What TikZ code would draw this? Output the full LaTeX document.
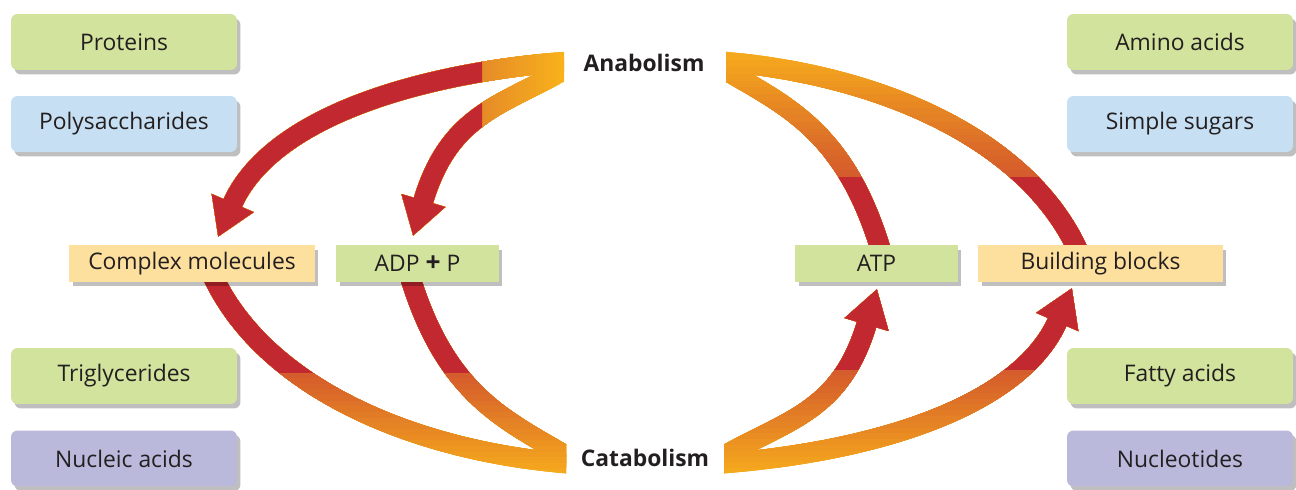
\documentclass[tikz,border=0pt]{standalone}
\usepackage{fontspec}
\setmainfont{Open Sans}
\usetikzlibrary{arrows.meta,shadows}
\definecolor{ink}{HTML}{231F20}
\definecolor{leaf}{HTML}{D1E39C}
\definecolor{sky}{HTML}{C7DFF2}
\definecolor{lilac}{HTML}{BAB9DB}
\definecolor{sand}{HTML}{FEE09E}
\definecolor{flameY}{HTML}{F8B11B}
\definecolor{flameA}{HTML}{E58A28}
\definecolor{flameO}{HTML}{D3572D}
\definecolor{flameR}{HTML}{C2282F}
% the four pairs of bands, one macro per quarter
\newcommand\bandsTL[1]{%
  \draw[band,head,#1] (anaL1) .. controls (420,72) and (270,117) .. (cmTop);
  \draw[band,head,#1] (anaL2) .. controls (506,105) and (450,110) .. (adpTop);}
\newcommand\bandsTR[1]{%
  \draw[band,#1] (anaR1) .. controls (870,72) and (1028,135) .. (bbTop);
  \draw[band,#1] (anaR2) .. controls (784,105) and (845,128) .. (atpTop);}
\newcommand\bandsBL[1]{%
  \draw[band,#1] (catL1) .. controls (420,453) and (262,390) .. (cmBot);
  \draw[band,#1] (catL2) .. controls (506,420) and (445,397) .. (adpBot);}
\newcommand\bandsBR[1]{%
  \draw[band,head,#1] (catR1) .. controls (870,453) and (1020,408) .. (bbBot);
  \draw[band,head,#1] (catR2) .. controls (784,420) and (840,415) .. (atpBot);}
\begin{document}
\begin{tikzpicture}[x=0.02cm, y=-0.02cm, font=\fontsize{13}{15.6}\selectfont, text=ink]
	\tikzset{band/.style={line width=0.4cm},
		head/.style={-{Triangle[width=0.86cm,length=0.74cm]}},
		boxshadow/.style={drop shadow={shadow xshift=0.07cm, shadow yshift=-0.09cm, fill=black, opacity=0.25}},
		pill/.style={boxshadow, rounded corners=0.13cm, minimum width=4.52cm, minimum height=1.12cm},
		midbox/.style={boxshadow, minimum height=0.74cm}}
	\useasboundingbox (0,0) rectangle (1296,490);
	\coordinate (anaL1) at (575,61); \coordinate (anaL2) at (575,64);
	\coordinate (anaR1) at (715,61); \coordinate (anaR2) at (715,64);
	\coordinate (catL1) at (575,464); \coordinate (catL2) at (575,461);
	\coordinate (catR1) at (715,464); \coordinate (catR2) at (715,461);
	\coordinate (cmTop) at (218,237); \coordinate (adpTop) at (413,236);
	\coordinate (cmBot) at (210,270); \coordinate (adpBot) at (408,270);
	\coordinate (bbTop) at (1080,255); \coordinate (atpTop) at (882,254);
	\coordinate (bbBot) at (1072,288); \coordinate (atpBot) at (877,289);
	% colour runs from yellow at the labels to red
	\foreach \i [evaluate=\i as \p using 5*\i] in {0,...,19}{
		\begin{scope} \clip (0,0) rectangle (564-4.1*\i,262); \bandsTL{flameA!\p!flameY} \end{scope}
		\begin{scope} \clip (726,40+6.85*\i) rectangle (1296,262); \bandsTR{flameO!\p!flameY} \end{scope}
		\begin{scope} \clip (0,262) rectangle (566,485-5.65*\i); \bandsBL{flameO!\p!flameY} \end{scope}
		\begin{scope} \clip (724,262) rectangle (1296,485-5.8*\i); \bandsBR{flameO!\p!flameY} \end{scope}
	}
	\begin{scope} \clip (0,0) rectangle (482,262); \bandsTL{flameR} \end{scope}
	\begin{scope} \clip (726,177) rectangle (1296,262); \bandsTR{flameR} \end{scope}
	\begin{scope} \clip (0,262) rectangle (566,372); \bandsBL{flameR} \end{scope}
	\begin{scope} \clip (724,262) rectangle (1296,369); \bandsBR{flameR} \end{scope}
	% boxes
	\node[pill, fill=leaf] (prot) at (124,42) {Proteins};
	\node[pill, fill=sky] (poly) at (124,124) {Polysaccharides};
	\node[pill, fill=leaf] (trig) at (124,376) {Triglycerides};
	\node[pill, fill=lilac] (nucl) at (124,458.5) {Nucleic acids};
	\node[pill, fill=leaf] (amino) at (1180,42) {Amino acids};
	\node[pill, fill=sky] (sugar) at (1180,124) {Simple sugars};
	\node[pill, fill=leaf] (fatty) at (1180,376) {Fatty acids};
	\node[pill, fill=lilac] (nucleo) at (1180,458.5) {Nucleotides};
	\node[midbox, fill=sand, minimum width=4.92cm] (cm) at (192,263.5) {Complex molecules};
	\node[midbox, fill=leaf, minimum width=3.26cm] (adp) at (417.5,263.5) {ADP {\fontsize{15}{15}\selectfont\bfseries +} P};
	\node[midbox, fill=leaf, minimum width=3.26cm] (atp) at (876.5,263.5) {ATP};
	\node[midbox, fill=sand, minimum width=4.9cm] (bb) at (1100.5,263.5) {Building blocks};
	\node[font=\fontsize{13}{15.6}\selectfont\bfseries] (ana) at (644,63) {Anabolism};
	\node[font=\fontsize{13}{15.6}\selectfont\bfseries] (cat) at (645,458) {Catabolism};
\end{tikzpicture}
\end{document}
